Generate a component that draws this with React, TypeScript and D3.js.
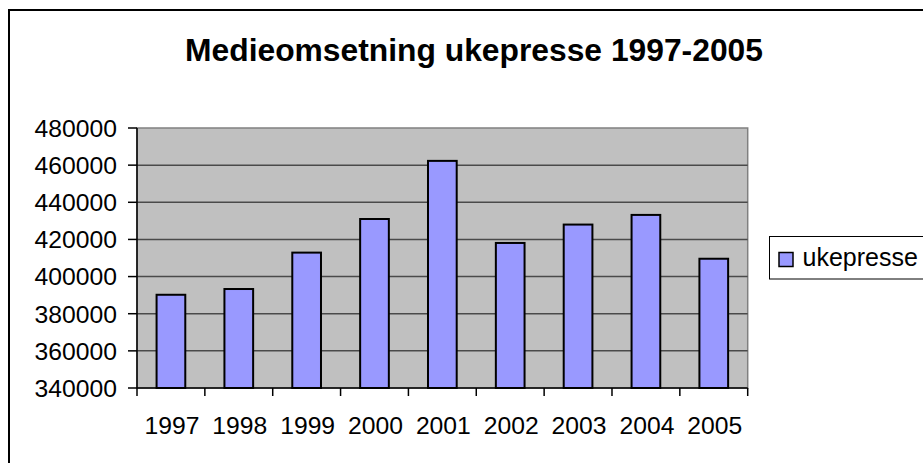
import React from "react";
import * as d3 from "d3";

const years = ["1997", "1998", "1999", "2000", "2001", "2002", "2003", "2004", "2005"];
const ukepresse = [390200, 393300, 412900, 431000, 462300, 418100, 428000, 433200, 409600];
const yTicks = [340000, 360000, 380000, 400000, 420000, 440000, 460000, 480000];
const title = "Medieomsetning ukepresse 1997-2005";
const seriesName = "ukepresse";

const W = 923;
const H = 463;
const plot = { left: 137, right: 747.7, top: 128, bottom: 388 };
const FONT = "'Liberation Sans', Arial, sans-serif";

export default function App() {
  const x = d3
    .scaleBand<string>()
    .domain(years)
    .range([plot.left, plot.right])
    .paddingInner(0.577)
    .paddingOuter(0.577 / 2);
  const y = d3.scaleLinear().domain([340000, 480000]).range([plot.bottom, plot.top]);
  const step = x.step();
  const boundaries = d3.range(years.length + 1).map((i) => plot.left + i * step);

  return (
    <svg
      width={W}
      height={H}
      style={{ position: "absolute", left: 0, top: 0, display: "block", background: "#fff" }}
    >
      <rect x={9} y={10} width={2000} height={2000} fill="#fff" stroke="#000" strokeWidth={2} />
      <text
        x={474}
        y={61}
        textAnchor="middle"
        fontFamily={FONT}
        fontWeight="bold"
        fontSize={31.8}
        fill="#000"
      >
        {title}
      </text>

      <rect
        x={plot.left}
        y={plot.top}
        width={plot.right - plot.left}
        height={plot.bottom - plot.top}
        fill="#c0c0c0"
        stroke="#808080"
        strokeWidth={1.5}
      />
      {yTicks.map((t) => (
        <g key={t}>
          {t !== 340000 && t !== 480000 && (
            <line x1={plot.left} x2={plot.right} y1={y(t)} y2={y(t)} stroke="#4a4a4a" strokeWidth={1.5} />
          )}
          <line x1={plot.left - 9} x2={plot.left} y1={y(t)} y2={y(t)} stroke="#000" strokeWidth={1.5} />
          <text
            x={117}
            y={y(t)}
            dy="0.36em"
            textAnchor="end"
            fontFamily={FONT}
            fontSize={24.7}
            fill="#000"
          >
            {t}
          </text>
        </g>
      ))}

      {years.map((yr, i) => (
        <rect
          key={yr}
          x={x(yr)}
          y={y(ukepresse[i])}
          width={x.bandwidth()}
          height={plot.bottom - y(ukepresse[i])}
          fill="#9999ff"
          stroke="#000"
          strokeWidth={2}
        />
      ))}

      <line x1={plot.left} x2={plot.left} y1={plot.top} y2={plot.bottom} stroke="#000" strokeWidth={1.5} />
      <line x1={plot.left} x2={plot.right} y1={plot.bottom} y2={plot.bottom} stroke="#000" strokeWidth={1.5} />
      {boundaries.map((bx, i) => (
        <line key={i} x1={bx} x2={bx} y1={plot.bottom} y2={plot.bottom + 8} stroke="#000" strokeWidth={1.5} />
      ))}
      {years.map((yr) => (
        <text
          key={yr}
          x={(x(yr) as number) + x.bandwidth() / 2 + 1}
          y={434}
          textAnchor="middle"
          fontFamily={FONT}
          fontSize={24.7}
          fill="#000"
        >
          {yr}
        </text>
      ))}

      <rect x={769.5} y={236.5} width={400} height={42.5} fill="#fff" stroke="#000" strokeWidth={1} />
      <rect x={779} y={252.5} width={14} height={14} fill="#9999ff" stroke="#000" strokeWidth={1.5} />
      <text x={802.5} y={265.5} fontFamily={FONT} fontSize={25} fill="#000">
        {seriesName}
      </text>
    </svg>
  );
}
